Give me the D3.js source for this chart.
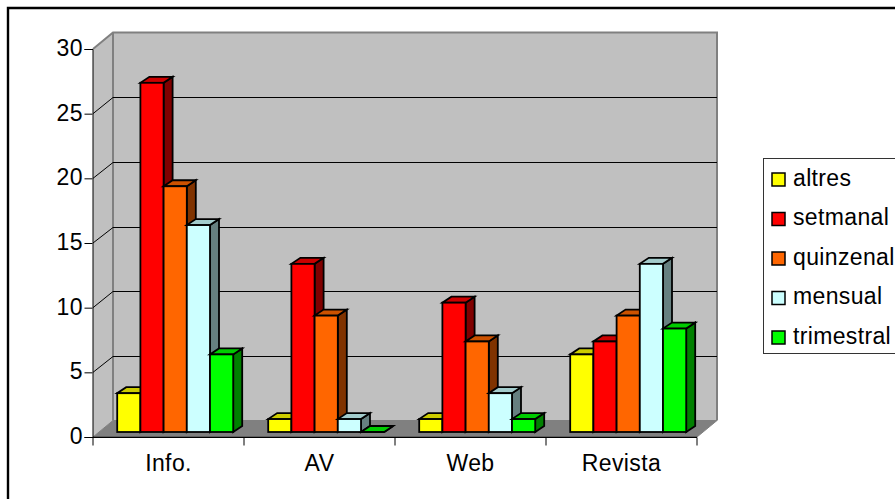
<!DOCTYPE html>
<html><head><meta charset="utf-8">
<style>html,body{margin:0;padding:0;background:#fff}svg{display:block}text{font-family:"Liberation Sans",Arial,sans-serif;fill:#000}</style>
<script src="https://cdn.jsdelivr.net/npm/d3@7"></script></head><body>
<script>
const categories = ["Info.", "AV", "Web", "Revista"];
const seriesNames = ["altres", "setmanal", "quinzenal", "mensual", "trimestral"];
const altres = [3, 1, 1, 6];
const setmanal = [27, 13, 10, 7];
const quinzenal = [19, 9, 7, 9];
const mensual = [16, 1, 3, 13];
const trimestral = [6, 0, 1, 8];
const seriesValues = [altres, setmanal, quinzenal, mensual, trimestral];
const faceColors = ["#ffff00", "#ff0000", "#ff6600", "#ccffff", "#00ff00"];
const topColors = ["#cccc00", "#cc0000", "#cc5200", "#a3cccc", "#00cc00"];
const sideColors = ["#808000", "#800000", "#803300", "#668080", "#008000"];
const yTicks = [0, 5, 10, 15, 20, 25, 30];

const W = 895, H = 499;
const svg = d3.select("body").append("svg").attr("width", W).attr("height", H);

// frame
svg.append("path").attr("d", `M8,${H}V8H${W}`).attr("fill", "none").attr("stroke", "#000").attr("stroke-width", 2.4);

const depthX = 20, depthY = -16.5;
const y = d3.scaleLinear().domain([0, 30]).range([437, 49]);
const x0 = d3.scaleBand().domain(categories).range([93, 697]);
const barStart = 24.2, barW = 23.2;
const x1 = d3.scaleBand().domain(seriesNames).range([barStart, barStart + barW * 5]);
const barDY = -5, topDX = 9, topDY = -6;

// walls
const fx0 = 93, fx1 = 697, fy0 = y(0), fy1 = y(30);
svg.append("polygon").attr("fill", "#c0c0c0")
  .attr("points", [[fx0+depthX,fy0+depthY],[fx1+depthX,fy0+depthY],[fx1+depthX,fy1+depthY],[fx0+depthX,fy1+depthY]].join(" "));
svg.append("polygon").attr("fill", "#c0c0c0")
  .attr("points", [[fx0,fy0],[fx0+depthX,fy0+depthY],[fx0+depthX,fy1+depthY],[fx0,fy1]].join(" "));
svg.append("polygon").attr("fill", "#808080")
  .attr("points", [[fx0,fy0],[fx1,fy0],[fx1+depthX,fy0+depthY],[fx0+depthX,fy0+depthY]].join(" "));
// wall outlines
svg.append("path").attr("fill", "none").attr("stroke", "#808080").attr("stroke-width", 2)
  .attr("d", `M${fx0},${fy1}L${fx0+depthX},${fy1+depthY}H${fx1+depthX}V${fy0+depthY}M${fx0+depthX},${fy1+depthY}V${fy0+depthY}`);
svg.append("path").attr("fill", "none").attr("stroke", "#808080").attr("stroke-width", 1)
  .attr("d", `M${fx0},${fy0}L${fx0+depthX},${fy0+depthY}H${fx1+depthX}L${fx1},${fy0}`);

// gridlines
const grid = svg.append("g").attr("fill", "none").attr("stroke", "#000").attr("stroke-width", 1);
yTicks.filter(t => t > 0 && t < 30).forEach(t => {
  const yy = y(t);
  const back = Math.round(yy + depthY) + .5;
  grid.append("path").attr("d", `M${fx0},${yy}L${fx0+depthX},${back}H${fx1+depthX}`);
});

// bars
const barsG = svg.append("g").attr("stroke", "#000").attr("stroke-width", 1.8).attr("stroke-linejoin", "miter");
categories.forEach((c, ci) => {
  seriesNames.forEach((s, si) => {
    const v = seriesValues[si][ci];
    const l = x0(c) + x1(s), r = l + x1.bandwidth();
    const b = y(0) + barDY, t = y(v) + barDY;
    const g = barsG.append("g");
    g.append("polygon").attr("fill", sideColors[si])
      .attr("points", [[r,b],[r+topDX,b+topDY],[r+topDX,t+topDY],[r,t]].join(" "));
    g.append("polygon").attr("fill", topColors[si])
      .attr("points", [[l,t],[r,t],[r+topDX,t+topDY],[l+topDX,t+topDY]].join(" "));
    g.append("rect").attr("x", l).attr("y", t).attr("width", r - l).attr("height", b - t).attr("fill", faceColors[si]);
  });
});

// floor front edge
svg.append("rect").attr("x", fx0).attr("y", fy0 - 0.5).attr("width", fx1 - fx0).attr("height", 1.5).attr("fill", "#404040");

// axes
const fontFam = '"Liberation Sans",Arial,sans-serif';
const yAxis = d3.axisLeft(y).tickValues(yTicks).tickSize(8).tickPadding(1.5);
const gy = svg.append("g").attr("transform", `translate(${fx0-.5},0)`).call(yAxis);
const xAxis = d3.axisBottom(x0).tickSize(0).tickPadding(17);
const gx = svg.append("g").attr("transform", `translate(0,${fy0+.5})`).call(xAxis);
gx.select(".domain").attr("d", `M${fx0},0H${fx1}`);
gx.selectAll(".sep").data(d3.range(categories.length + 1)).join("line").attr("class", "sep")
  .attr("x1", i => x0.step() * i + fx0).attr("x2", i => x0.step() * i + fx0)
  .attr("y1", 0).attr("y2", 8).attr("stroke", "#000");
svg.selectAll(".domain").attr("stroke", "#000");
gy.selectAll("text").attr("font-size", 23).style("font-family", fontFam).attr("dy", "0.28em").style("letter-spacing", "0.4px");
gx.selectAll("text").attr("font-size", 23).style("font-family", fontFam).style("letter-spacing", "0.4px");

// legend
const lg = svg.append("g");
lg.append("rect").attr("x", 763.5).attr("y", 158.5).attr("width", 140).attr("height", 195).attr("fill", "#fff").attr("stroke", "#333");
const ly = d3.scalePoint().domain(seriesNames).range([178, 336]);
seriesNames.forEach((s, i) => {
  lg.append("rect").attr("x", 772).attr("y", ly(s) - 5).attr("width", 13).attr("height", 13)
    .attr("fill", faceColors[i]).attr("stroke", "#000").attr("stroke-width", 1.5);
  lg.append("text").attr("x", 793).attr("y", ly(s) + 7.5).attr("font-size", 23).style("letter-spacing", "0.35px").text(s);
});
</script></body></html>
